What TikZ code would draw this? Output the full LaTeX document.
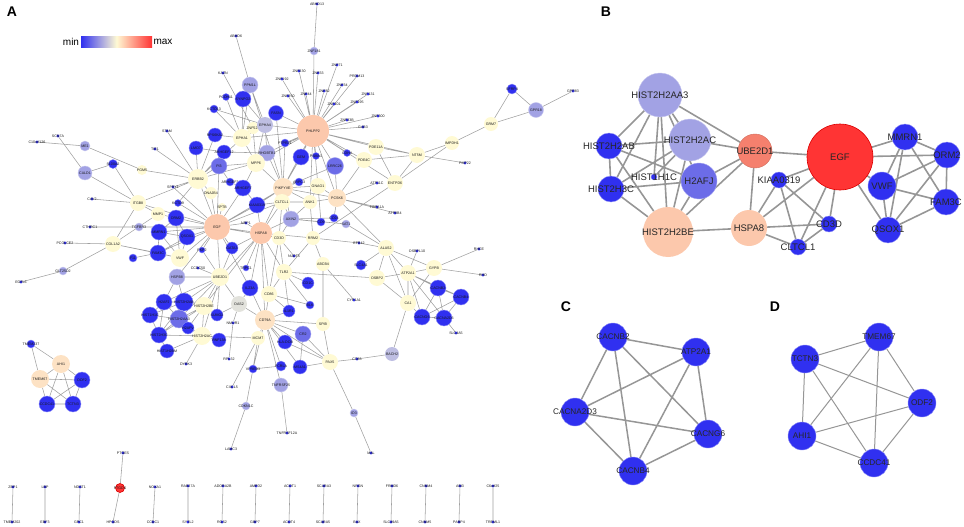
\documentclass[tikz,border=0pt]{standalone}
\usepackage{fontspec}
\setmainfont{Liberation Sans}
\usetikzlibrary{backgrounds}

\definecolor{nblue}{RGB}{48,48,240}
\definecolor{nmid}{RGB}{108,108,232}
\definecolor{nlav}{RGB}{162,162,228}
\definecolor{ngry}{RGB}{190,190,226}
\definecolor{ncre}{RGB}{255,250,212}
\definecolor{npch}{RGB}{252,200,172}
\definecolor{nlpc}{RGB}{253,226,196}
\definecolor{nsal}{RGB}{245,128,110}
\definecolor{nred}{RGB}{255,52,52}
\definecolor{nash}{RGB}{226,226,220}
\definecolor{edgeA}{RGB}{160,160,160}
\definecolor{edgeB}{RGB}{150,150,150}

\tikzset{
    gn/.style = {circle, inner sep = 0pt, minimum size = #1pt},
    gn/.default = 16,
    dt/.style = {circle, inner sep = 0pt, minimum size = 3.2pt, fill = nblue},
    labA/.style = {font = \fontsize{3.6}{4}\selectfont, inner sep = 0pt, text = black!90},
    labB/.style = {font = \fontsize{9.5}{11}\selectfont, inner sep = 0pt, text = black!85},
    labC/.style = {font = \fontsize{8.2}{10}\selectfont, inner sep = 0pt, text = black!85},
    lb/.style = {label = {[labA]center:#1}},
    lbB/.style = {label = {[labB]center:#1}},
    lbC/.style = {label = {[labC]center:#1}},
    bl/.style = {fill = nblue, draw = nblue!55!white, line width = 0.4pt},
    md/.style = {fill = nmid, draw = nmid!60!white, line width = 0.4pt},
    lv/.style = {fill = nlav, draw = nlav!60!white, line width = 0.4pt},
    gy/.style = {fill = ngry},
    cr/.style = {fill = ncre},
    pc/.style = {fill = npch},
    lp/.style = {fill = nlpc},
    sa/.style = {fill = nsal, draw = nsal!85!black, line width = 0.4pt},
    rd/.style = {fill = nred, draw = red!85!black, line width = 0.6pt},
    ash/.style = {fill = nash},
    edA/.style = {draw = edgeA, line width = 0.55pt},
    edB/.style = {draw = edgeB, line width = 1.6pt},
    edC/.style = {draw = edgeB, line width = 1.5pt},
    edD/.style = {draw = edgeB, line width = 1pt},
    panel/.style = {font = \fontsize{14}{16}\selectfont\bfseries},
}

\begin{document}
\begin{tikzpicture}[x = 1pt, y = -1pt]

    \useasboundingbox (0,0) rectangle (964,527);

    % ---------- panel A ----------
    \node[panel] (pA) at (12,12) {A};
    \shade[left color = nblue, right color = nred, middle color = ncre] (81,37) rectangle (152,48);
    \node[font = \fontsize{10}{12}\selectfont] (lmin) at (71,42) {min};
    \node[font = \fontsize{10}{12}\selectfont] (lmax) at (163,42) {max};

    % upper star
    \node[dt, lb=ABHD13] (abhd) at (317,4) {};
    \node[gn=8, lv, lb=ZNF181] (znf181) at (314,51) {};
    \node[dt, lb=ABHD6] (abhd6) at (236,36) {};
    \node[dt, lb=KAZN] (kazn) at (223,73) {};
    \node[gn=16, lv, lb=PPM1L] (ppm1l) at (250,85) {};
    \node[gn=7, bl, lb=PCDH11] (pcdh) at (226,97) {};
    \node[gn=16, bl, lb=SYNPO2] (synpo) at (243,99) {};
    \node[gn=8, bl, lb=KCTD13] (kctd13) at (214,109) {};
    \node[gn=15, bl, lb=FASN] (fasn) at (276,113) {};
    \node[gn=12, cr, lb=ZNF521] (znf521) at (253,128) {};
    \node[gn=16, gy, lb=EPHA4] (epha4) at (265,125) {};
    \node[gn=18, cr, lb=EPHA1] (epha1) at (242,138) {};
    \node[gn=16, lv, lb=RHOBTB1] (rhob) at (267,153) {};
    \node[gn=8, bl, lb=PTPRZ1] (ptprz) at (285,143) {};
    \node[gn=32, pc, lb=PHLPP2] (phlpp) at (313,131) {};
    \node[dt, lb=ZNF192] (z192) at (282,79) {};
    \node[dt, lb=ZNF230] (z230) at (299,71) {};
    \node[dt, lb=ZNF33] (z33) at (318,73) {};
    \node[dt, lb=ZNF71] (z71) at (337,65) {};
    \node[dt, lb=PRDM13] (prdm) at (357,76) {};
    \node[dt, lb=ZNF34] (z34) at (342,85) {};
    \node[dt, lb=ZNF82] (z82) at (324,91) {};
    \node[dt, lb=ZNF44] (z44) at (306,94) {};
    \node[dt, lb=ZNF250] (z250) at (288,96) {};
    \node[dt, lb=ZNF131] (z131) at (368,94) {};
    \node[dt, lb=ZNF195] (z195) at (357,102) {};
    \node[dt, lb=ZNF101] (z101) at (334,104) {};
    \node[dt, lb=ZNF33B] (z33b) at (347,120) {};
    \node[dt, lb=ZNF300] (z300) at (378,116) {};
    \node[dt, lb=GAB3] (gab3) at (363,127) {};
    \node[gn=16, cr, lb=PDE11A] (pde11a) at (376,147) {};
    \node[gn=16, cr, lb=NT5M] (nt5m) at (417,155) {};
    \node[gn=14, cr, lb=IMPDH1] (impdh) at (452,143) {};
    \node[gn=14, cr, lb=GRM7] (grm7) at (491,124) {};
    \node[gn=10, bl, lb=SFRP4] (sfrp) at (512,89) {};
    \node[gn=15, lv, lb=GPR18] (gpr18) at (536,110) {};
    \node[dt, lb=GPR83] (gpr83) at (573,91) {};
    \node[dt, lb=PMP22] (pmp22) at (465,163) {};
    \node[gn=16, cr, lb=ENTPD6] (entpd) at (395,183) {};
    \node[gn=16, cr, lb=PDE4C] (pde4c) at (364,160) {};
    \node[gn=17, md, lb=LRRC26] (lrrc) at (335,166) {};
    \node[gn=16, bl, lb=GEM] (gem) at (301,157) {};
    \node[gn=7, bl, lb=PSMA1] (psma) at (316,156) {};
    \node[gn=7, bl, lb=CDH4] (cdh4) at (347,153) {};
    \node[dt, lb=ATP11C] (atp11c) at (377,183) {};
    \node[gn=18, cr, lb=MPP6] (mpp6) at (256,163) {};
    \node[gn=20, lp, lb=PIKFYVE] (pikf) at (283,188) {};
    \node[gn=8, bl, lb=ARPC3] (arpc) at (299,182) {};
    \node[gn=16, cr, lb=GNAO1] (gnao) at (318,186) {};
    \node[gn=18, lp, lb=PCSK6] (pcsk) at (337,198) {};

    % left side
    \node[dt, lb=C10orf126] (c10) at (37,142) {};
    \node[dt, lb=SCN7A] (scn7a) at (58,136) {};
    \node[gn=10, lv, lb=ME1] (me1) at (85,146) {};
    \node[gn=14, lv, lb=CALD1] (cald) at (85,173) {};
    \node[gn=9, bl, lb=S100A2] (s100) at (113,164) {};
    \node[gn=10, cr, lb=PGM5] (pgm5) at (142,170) {};
    \node[gn=20, cr, lb=ERBB2] (erbb2) at (198,179) {};
    \node[dt, lb=STAM] (stam) at (167,131) {};
    \node[dt, lb=TIE1] (tie1) at (155,149) {};
    \node[dt, lb=SPRY1] (spry) at (173,187) {};
    \node[gn=14, bl, lb=RPS6KA2] (rps6) at (215,135) {};
    \node[gn=14, bl, lb=LMO7] (lmo7) at (196,148) {};
    \node[gn=14, bl, lb=ARHGEF12] (ahg12) at (224,152) {};
    \node[gn=16, md, lb=PI3] (pi3) at (219,166) {};
    \node[gn=8, bl, lb=ARHGEF3] (ahg3) at (230,182) {};
    \node[gn=16, bl, lb=ARHGEF7] (ahg7) at (243,188) {};
    \node[gn=12, cr, lb=DNAJB4] (dnaj) at (211,193) {};
    \node[dt, lb=CAV2] (cav2) at (92,199) {};
    \node[gn=16, cr, lb=ITGB8] (itgb8) at (138,203) {};
    \node[gn=7, bl, lb=KCTD9] (kctd9) at (178,203) {};
    \node[gn=8, cr, lb=SPTB] (sptb) at (222,207) {};
    \node[gn=16, bl, lb=KIAA0319] (kiaa) at (257,205) {};
    \node[gn=14, cr, lb=MMP1] (mmp1) at (158,214) {};
    \node[gn=16, bl, lb=ORM2] (orm2) at (176,218) {};
    \node[gn=16, bl, lb=MMRN1] (mmrn) at (159,232) {};
    \node[gn=16, bl, lb=QSOX1] (qsox) at (187,237) {};
    \node[gn=16, bl, lb=FAM3C] (fam3c) at (158,253) {};
    \node[gn=18, cr, lb=VWF] (vwf) at (180,258) {};
    \node[gn=26, pc, lb=EGF] (egf) at (217,227) {};
    \node[gn=8, lv, lb=TGFBR3] (tgfb) at (139,227) {};
    \node[dt, lb=CTHRC1] (cthrc) at (90,227) {};
    \node[gn=16, cr, lb=COL1A2] (col1a) at (113,244) {};
    \node[dt, lb=PCOLCE2] (pcol) at (65,243) {};
    \node[gn=8, bl, lb=F11] (f11) at (133,258) {};
    \node[gn=8, lv, lb=GLT25D2] (glt) at (63,271) {};
    \node[dt, lb=EGFL6] (egfl) at (21,282) {};

    % centre
    \node[gn=22, pc, lb=HSPA8] (hspa) at (261,233) {};
    \node[dt, lb=NRP1] (nrp1) at (246,223) {};
    \node[gn=12, bl, lb=GATA3] (gata3) at (232,248) {};
    \node[gn=6, bl, lb=PKP2] (pkp2) at (202,250) {};
    \node[dt, lb=CCDC50] (ccdc50) at (198,268) {};
    \node[gn=16, lv, lb=HSPB8] (hspb) at (177,277) {};
    \node[gn=18, cr, lb=UBE2D1] (ube) at (220,277) {};
    \node[gn=6, bl, lb=TRPC1] (trpc) at (246,268) {};
    \node[gn=16, bl, lb=IL23A] (il23) at (250,288) {};
    \node[gn=16, bl, lb=H2AFJ] (h2afj) at (164,302) {};
    \node[gn=18, bl, lb=HIST2H2AB] (h2ab) at (184,302) {};
    \node[gn=18, cr, lb=HIST2H2BE] (h2be) at (204,306) {};
    \node[gn=16, ash, lb=OAS2] (oas2) at (239,304) {};
    \node[gn=16, bl, lb=HIST1H1C] (h1c) at (150,315) {};
    \node[gn=18, md, lb=HIST2H2AA3] (aa3) at (179,319) {};
    \node[gn=12, bl, lb=SUMO2] (sumo) at (217,315) {};
    \node[gn=16, bl, lb=HIST2H3C] (h3c) at (159,335) {};
    \node[gn=12, bl, lb=H2AFV] (h2afv) at (188,328) {};
    \node[gn=18, cr, lb=HIST2H2AC] (h2ac) at (202,336) {};
    \node[dt, lb=NMUR1] (nmur) at (233,323) {};
    \node[gn=14, bl, lb=RNF138] (rnf) at (219,340) {};
    \node[gn=14, bl, lb=HIST1H2BM] (h2bm) at (167,351) {};
    \node[dt, lb=DYRK3] (dyrk) at (186,364) {};
    \node[dt, lb=RPL32] (rpl) at (229,359) {};
    \node[gn=20, lp, lb=CD79A] (cd79a) at (265,320) {};
    \node[gn=14, cr, lb=MCM7] (mcm7) at (258,338) {};
    \node[gn=14, bl, lb=HLA-DOB] (hla) at (285,342) {};
    \node[gn=8, bl, lb=VPREB3] (vpreb) at (253,369) {};
    \node[gn=10, bl, lb=FCRLA] (fcrla) at (281,366) {};
    \node[gn=14, bl, lb=MS4A1] (ms4a) at (300,367) {};
    \node[gn=16, cr, lb=PAX5] (pax5) at (330,362) {};
    \node[dt, lb=CD83] (cd83) at (357,359) {};
    \node[gn=14, gy, lb=BACH2] (bach2) at (392,354) {};
    \node[gn=14, lv, lb=TNFRSF25] (tnfr) at (281,385) {};
    \node[dt, lb=CXCL5] (cxcl5) at (232,387) {};
    \node[gn=8, lv, lb=CDKN1C] (cdkn) at (246,406) {};
    \node[gn=8, lv, lb=ID3] (id3) at (354,413) {};
    \node[dt, lb=TNFRSF12A] (tnfr12) at (287,433) {};
    \node[dt, lb=LAMC3] (lamc) at (231,449) {};
    \node[dt, lb=MAL] (mal) at (371,453) {};

    % centre right
    \node[gn=16, cr, lb=CLTCL1] (clt) at (282,202) {};
    \node[gn=14, cr, lb=ANK1] (ank1) at (310,202) {};
    \node[gn=16, lv, lb=AXIN2] (axin) at (291,219) {};
    \node[gn=8, bl, lb=CD9] (cd9) at (321,222) {};
    \node[gn=8, bl, lb=CD24] (cd24) at (334,218) {};
    \node[gn=8, lv, lb=SAT1] (sat1) at (346,224) {};
    \node[gn=14, cr, lb=CD3D] (cd3d) at (279,238) {};
    \node[gn=14, cr, lb=RRM2] (rrm2) at (313,238) {};
    \node[dt, lb=HSPA1A] (hspa1) at (377,207) {};
    \node[dt, lb=ATP8B4] (atp8b) at (395,213) {};
    \node[dt, lb=EPB42] (epb) at (359,243) {};
    \node[gn=16, cr, lb=ALAS2] (alas2) at (386,248) {};
    \node[dt, lb=OSBPL10] (osbpl) at (417,251) {};
    \node[dt, lb=NUDT5] (nudt) at (294,256) {};
    \node[gn=14, cr, lb=ABCB4] (abcb4) at (323,264) {};
    \node[gn=10, bl, lb=SLC4A1] (slc4a1) at (361,265) {};
    \node[dt, lb=RHCE] (rhce) at (479,249) {};
    \node[gn=16, cr, lb=GYPB] (gypb) at (434,268) {};
    \node[gn=16, cr, lb=ATP2A1] (atp2a) at (408,273) {};
    \node[gn=16, cr, lb=TLR2] (tlr2) at (284,272) {};
    \node[gn=16, cr, lb=OSBP2] (osbp2) at (377,278) {};
    \node[dt, lb=RHD] (rhd) at (483,275) {};
    \node[gn=12, bl, lb=CD1C] (cd1c) at (308,283) {};
    \node[gn=16, bl, lb=CACNB2] (cacnb2) at (438,288) {};
    \node[gn=16, bl, lb=CACNB4] (cacnb4) at (461,297) {};
    \node[gn=16, cr, lb=CD86] (cd86) at (269,294) {};
    \node[gn=8, bl, lb=BLK] (blk) at (310,305) {};
    \node[dt, lb=CYP1A1] (cyp) at (354,300) {};
    \node[gn=16, cr, lb=CA1] (ca1) at (408,303) {};
    \node[gn=16, bl, lb=CACNG6] (cacng) at (422,317) {};
    \node[gn=16, bl, lb=CACNA2D3] (cacna) at (444,318) {};
    \node[dt, lb=SLC4A5] (slc4a5) at (456,333) {};
    \node[gn=12, bl, lb=IL1R1] (il1r) at (289,311) {};
    \node[gn=14, cr, lb=SPIB] (spib) at (323,324) {};
    \node[gn=16, md, lb=CR2] (cr2) at (303,334) {};

    % AHI1 module
    \node[gn=8, bl, lb=TMEM237] (tmem237) at (31,344) {};
    \node[gn=18, lp, lb=AHI1] (ahi) at (61,364) {};
    \node[gn=18, lp, lb=TMEM67] (tmem67) at (40,379) {};
    \node[gn=16, bl, lb=ODF2] (odf2) at (82,380) {};
    \node[gn=16, bl, lb=CCDC41] (ccdc41) at (47,404) {};
    \node[gn=16, bl, lb=TCTN3] (tctn3) at (73,404) {};

    % pairs at the bottom
    \node[dt, lb=ZBP1] (zbp) at (13,487) {};
    \node[dt, lb=TMEM202] (tmem202) at (12,522) {};
    \node[dt, lb=LBP] (lbp) at (45,487) {};
    \node[dt, lb=EBF3] (ebf3) at (45,522) {};
    \node[dt, lb=NDST1] (ndst) at (80,487) {};
    \node[dt, lb=GPC1] (gpc1) at (79,522) {};
    \node[dt, lb=PTGES] (ptges) at (123,453) {};
    \node[gn=9, rd, lb=PTGDS] (ptgds) at (120,488) {};
    \node[dt, lb=HPGDS] (hpgds) at (113,522) {};
    \node[dt, lb=NOXA1] (noxa) at (155,487) {};
    \node[dt, lb=CCDC1] (ccdc1) at (153,522) {};
    \node[dt, lb=RAB27A] (rab27) at (188,486) {};
    \node[dt, lb=SYTL2] (sytl2) at (188,522) {};
    \node[dt, lb=ADORA2B] (adora) at (223,486) {};
    \node[dt, lb=RGS2] (rgs2) at (222,522) {};
    \node[dt, lb=AMPD2] (ampd2) at (256,486) {};
    \node[dt, lb=GBP7] (gbp7) at (255,522) {};
    \node[dt, lb=ACOT1] (acot1) at (290,486) {};
    \node[dt, lb=ACOT4] (acot4) at (289,522) {};
    \node[dt, lb=SCARA3] (scara3) at (324,486) {};
    \node[dt, lb=SCARA5] (scara5) at (323,522) {};
    \node[dt, lb=NRGN] (nrgn) at (358,486) {};
    \node[dt, lb=BAX] (bax) at (357,522) {};
    \node[dt, lb=FRMD6] (frmd6) at (392,486) {};
    \node[dt, lb=SLC39A5] (slc39) at (391,522) {};
    \node[dt, lb=CNNM4] (cnnm4) at (426,486) {};
    \node[dt, lb=CNNM5] (cnnm5) at (425,522) {};
    \node[dt, lb=ABI3] (abi3) at (460,486) {};
    \node[dt, lb=PARP4] (parp4) at (459,522) {};
    \node[dt, lb=C6orf25] (c6orf) at (493,486) {};
    \node[dt, lb=TREML1] (treml) at (493,522) {};

    \begin{pgfonlayer}{background}
        \draw[edA]
        % PHLPP2 hub
        (abhd) -- (znf181) (znf181) -- (phlpp)
        (phlpp) -- (z192) (phlpp) -- (z230) (phlpp) -- (z33) (phlpp) -- (z71)
        (phlpp) -- (prdm) (phlpp) -- (z34) (phlpp) -- (z82) (phlpp) -- (z44)
        (phlpp) -- (z250) (phlpp) -- (z131) (phlpp) -- (z195) (phlpp) -- (z101)
        (phlpp) -- (z33b) (phlpp) -- (z300) (phlpp) -- (gab3)
        (phlpp) -- (pde11a) (phlpp) -- (nt5m) (phlpp) -- (pde4c) (phlpp) -- (lrrc)
        (phlpp) -- (gem) (phlpp) -- (pikf) (phlpp) -- (gnao) (phlpp) -- (pcsk)
        (phlpp) -- (epha4) (phlpp) -- (fasn) (phlpp) -- (mpp6) (phlpp) -- (rhob)
        (phlpp) -- (ptprz) (phlpp) -- (epha1) (phlpp) -- (ank1) (phlpp) -- (psma)
        (phlpp) -- (cdh4) (phlpp) -- (entpd)
        % upper left
        (abhd6) -- (ppm1l) (kazn) -- (znf521) (ppm1l) -- (epha4) (ppm1l) -- (epha1)
        (ppm1l) -- (pikf) (pcdh) -- (epha1) (synpo) -- (epha1) (synpo) -- (epha4)
        (kctd13) -- (epha1) (kctd13) -- (epha4) (fasn) -- (epha4) (fasn) -- (pikf)
        (epha4) -- (epha1) (epha4) -- (rhob) (epha4) -- (mpp6) (znf521) -- (epha1)
        (znf521) -- (mpp6) (epha1) -- (erbb2) (epha1) -- (mpp6) (epha1) -- (rps6)
        (rhob) -- (mpp6) (rhob) -- (pikf) (rhob) -- (ahg12) (ptprz) -- (pikf)
        (gem) -- (pikf) (lrrc) -- (pcsk) (lrrc) -- (pikf) (pde4c) -- (pcsk)
        (pde4c) -- (nt5m) (pde11a) -- (nt5m) (pde11a) -- (entpd) (nt5m) -- (entpd)
        (nt5m) -- (impdh) (nt5m) -- (pmp22) (impdh) -- (entpd) (impdh) -- (grm7)
        (grm7) -- (sfrp) (grm7) -- (gpr18) (sfrp) -- (gpr18) (gpr18) -- (gpr83)
        (atp11c) -- (pcsk) (entpd) -- (rrm2) (pcsk) -- (hspa1) (pcsk) -- (atp8b)
        (pcsk) -- (alas2) (pcsk) -- (gnao) (pcsk) -- (ank1) (pcsk) -- (pikf)
        (pcsk) -- (cd24) (gnao) -- (pikf) (gnao) -- (ank1) (gnao) -- (cd9)
        (ank1) -- (pikf) (ank1) -- (clt) (ank1) -- (axin) (ank1) -- (rrm2)
        (arpc) -- (pikf) (pikf) -- (clt) (pikf) -- (egf) (pikf) -- (hspa)
        (pikf) -- (mpp6) (pikf) -- (axin) (pikf) -- (kiaa)
        % ERBB2 side
        (c10) -- (me1) (me1) -- (pgm5) (pgm5) -- (erbb2) (scn7a) -- (cald)
        (cald) -- (s100) (cald) -- (itgb8) (s100) -- (itgb8) (erbb2) -- (stam)
        (erbb2) -- (tie1) (erbb2) -- (spry) (erbb2) -- (lmo7) (erbb2) -- (rps6)
        (erbb2) -- (ahg12) (erbb2) -- (pi3) (erbb2) -- (egf) (erbb2) -- (itgb8)
        (erbb2) -- (dnaj) (erbb2) -- (mpp6) (erbb2) -- (kctd9)
        (itgb8) -- (col1a) (itgb8) -- (cav2) (itgb8) -- (mmp1) (itgb8) -- (egf)
        (cthrc) -- (tgfb) (tgfb) -- (egf) (pcol) -- (col1a) (col1a) -- (glt)
        (glt) -- (egfl) (col1a) -- (mmp1) (col1a) -- (fam3c) (f11) -- (fam3c)
        (col1a) -- (vwf) (lmo7) -- (ahg12) (ahg12) -- (pi3) (ahg3) -- (pi3)
        (pi3) -- (mpp6) (ahg7) -- (ahg3) (ahg7) -- (mpp6) (kiaa) -- (ahg7)
        % EGF hub
        (egf) -- (orm2) (egf) -- (mmrn) (egf) -- (qsox) (egf) -- (vwf)
        (egf) -- (fam3c) (egf) -- (kiaa) (egf) -- (hspa) (egf) -- (ube)
        (egf) -- (cd3d) (egf) -- (clt) (egf) -- (spry) (egf) -- (kctd9)
        (egf) -- (sptb) (egf) -- (dnaj) (egf) -- (gata3) (egf) -- (pkp2)
        (egf) -- (mmp1) (egf) -- (pi3) (egf) -- (ahg7) (egf) -- (nrp1)
        (egf) -- (hspb) (egf) -- (il23)
        (mmrn) -- (orm2) (mmrn) -- (qsox) (mmrn) -- (vwf) (mmrn) -- (fam3c)
        (orm2) -- (qsox) (orm2) -- (vwf) (qsox) -- (vwf) (qsox) -- (fam3c)
        (fam3c) -- (vwf)
        % UBE2D1, HSPA8 and the histones
        (ube) -- (hspa) (ube) -- (h2be) (ube) -- (h2ab) (ube) -- (h2afj)
        (ube) -- (aa3) (ube) -- (h2ac) (ube) -- (hspb) (ube) -- (pkp2)
        (ube) -- (ccdc50) (ube) -- (oas2) (ube) -- (sumo) (ube) -- (gata3)
        (hspa) -- (kiaa) (hspa) -- (clt) (hspa) -- (cd3d) (hspa) -- (tlr2)
        (hspa) -- (cd86) (hspa) -- (il23) (hspa) -- (h2be) (hspa) -- (trpc)
        (hspa) -- (gata3) (hspa) -- (nrp1) (hspa) -- (axin) (hspa) -- (cd79a)
        (hspa) -- (rrm2)
        (h2afj) -- (h2ab) (h2afj) -- (h1c) (h2afj) -- (aa3) (h2afj) -- (h3c)
        (h2ab) -- (h2be) (h2ab) -- (aa3) (h2ab) -- (h1c) (h2ab) -- (h3c)
        (h2be) -- (aa3) (h2be) -- (h2ac) (h2be) -- (sumo) (h2be) -- (h2afv)
        (h2be) -- (h3c) (h1c) -- (aa3) (h1c) -- (h3c) (aa3) -- (h3c)
        (aa3) -- (h2afv) (aa3) -- (h2ac) (h3c) -- (h2ac) (h3c) -- (h2bm)
        (h2bm) -- (h2ac) (h2afv) -- (h2ac) (h2ac) -- (rnf) (h2ac) -- (dyrk)
        (h2ac) -- (mcm7) (sumo) -- (oas2) (oas2) -- (nmur) (nmur) -- (rpl)
        (oas2) -- (cd79a) (oas2) -- (il23) (hspb) -- (h2afj) (hspb) -- (h2ab)
        % B cell part
        (mcm7) -- (cd79a) (mcm7) -- (vpreb) (mcm7) -- (cxcl5) (vpreb) -- (cdkn)
        (cdkn) -- (lamc) (vpreb) -- (cd79a) (vpreb) -- (fcrla) (cd79a) -- (fcrla)
        (cd79a) -- (ms4a) (cd79a) -- (hla) (cd79a) -- (cr2) (cd79a) -- (spib)
        (cd79a) -- (il1r) (cd79a) -- (cd86) (cd79a) -- (tnfr) (cd79a) -- (pax5)
        (cd79a) -- (il23) (tnfr) -- (tnfr12) (ms4a) -- (pax5) (hla) -- (pax5)
        (cr2) -- (pax5) (cr2) -- (ms4a) (spib) -- (pax5) (pax5) -- (cd83)
        (cd83) -- (bach2) (pax5) -- (id3) (id3) -- (mal) (bach2) -- (ca1)
        (spib) -- (abcb4)
        % TLR2 and CD86
        (tlr2) -- (cd86) (tlr2) -- (il1r) (tlr2) -- (cd1c) (tlr2) -- (blk)
        (tlr2) -- (cd3d) (tlr2) -- (rrm2) (tlr2) -- (osbp2) (cd86) -- (il1r)
        (cd86) -- (cd3d) (cd86) -- (blk) (cd3d) -- (clt) (cd3d) -- (axin)
        (cd3d) -- (nudt) (rrm2) -- (abcb4) (rrm2) -- (epb) (abcb4) -- (cyp)
        (axin) -- (cd9) (axin) -- (cd24) (axin) -- (sat1) (clt) -- (axin)
        (clt) -- (kiaa) (sat1) -- (alas2) (slc4a1) -- (alas2)
        % erythroid and calcium channel part
        (alas2) -- (epb) (alas2) -- (osbp2) (alas2) -- (atp2a) (alas2) -- (gypb)
        (alas2) -- (ca1) (osbp2) -- (atp2a) (osbp2) -- (ca1) (atp2a) -- (gypb)
        (atp2a) -- (osbpl) (atp2a) -- (ca1) (atp2a) -- (cacnb2) (atp2a) -- (cacnb4)
        (atp2a) -- (cacng) (atp2a) -- (cacna) (gypb) -- (rhce) (gypb) -- (rhd)
        (gypb) -- (ca1) (cacnb2) -- (cacnb4) (cacnb2) -- (cacng) (cacnb2) -- (cacna)
        (cacnb4) -- (cacng) (cacnb4) -- (cacna) (cacng) -- (cacna) (ca1) -- (cacng)
        (cacna) -- (slc4a5)
        % AHI1 module
        (tmem237) -- (ahi) (tmem237) -- (tmem67) (ahi) -- (tmem67) (ahi) -- (odf2)
        (ahi) -- (ccdc41) (ahi) -- (tctn3) (tmem67) -- (odf2) (tmem67) -- (ccdc41)
        (tmem67) -- (tctn3) (odf2) -- (ccdc41) (odf2) -- (tctn3) (ccdc41) -- (tctn3)
        % pairs
        (zbp) -- (tmem202) (lbp) -- (ebf3) (ndst) -- (gpc1) (ptges) -- (ptgds)
        (ptgds) -- (hpgds) (noxa) -- (ccdc1) (rab27) -- (sytl2) (adora) -- (rgs2)
        (ampd2) -- (gbp7) (acot1) -- (acot4) (scara3) -- (scara5) (nrgn) -- (bax)
        (frmd6) -- (slc39) (cnnm4) -- (cnnm5) (abi3) -- (parp4) (c6orf) -- (treml)
        ;
    \end{pgfonlayer}

    % ---------- panel B ----------
    \node[panel] (pB) at (606,12) {B};
    \node[gn=44, lv, lbB=HIST2H2AA3] (bh2aa3) at (660,95) {};
    \node[gn=42, lv, lbB=HIST2H2AC] (bh2ac) at (690,140) {};
    \node[gn=26, bl, lbB=HIST2H2AB] (bh2ab) at (609,146) {};
    \node[gn=26, bl, lbB=HIST2H3C] (bh3c) at (611,189) {};
    \node[gn=36, md, lbB=H2AFJ] (bh2afj) at (699,181) {};
    \node[gn=6, bl, lbB=HIST1H1C] (bh1c) at (654,177) {};
    \node[gn=34, sa, lbB=UBE2D1] (bube) at (755,151) {};
    \node[gn=66, rd, lbB=EGF] (begf) at (840,157) {};
    \node[gn=26, bl, lbB=MMRN1] (bmmrn) at (905,137) {};
    \node[gn=26, bl, lbB=ORM2] (borm) at (947,155) {};
    \node[gn=28, bl, lbB=VWF] (bvwf) at (882,186) {};
    \node[gn=26, bl, lbB=FAM3C] (bfam) at (946,202) {};
    \node[gn=26, bl, lbB=QSOX1] (bqsox) at (888,230) {};
    \node[gn=16, bl, lbB=KIAA0319] (bkiaa) at (779,180) {};
    \node[gn=50, pc, lbB=HIST2H2BE] (bh2be) at (668,232) {};
    \node[gn=36, pc, lbB=HSPA8] (bhspa) at (749,228) {};
    \node[gn=16, bl, lbB=CD3D] (bcd3d) at (829,224) {};
    \node[gn=16, bl, lbB=CLTCL1] (bclt) at (798,247) {};

    \begin{pgfonlayer}{background}
        \draw[edB]
        (bh2aa3) -- (bh2ab) (bh2aa3) -- (bh3c) (bh2aa3) -- (bh1c) (bh2aa3) -- (bh2be)
        (bh2aa3) -- (bube) (bh2aa3) -- (bh2afj) (bh2aa3) -- (bh2ac)
        (bh2ab) -- (bh2ac) (bh2ab) -- (bh3c) (bh2ab) -- (bh2afj) (bh2ab) -- (bh2be)
        (bh2ac) -- (bube) (bh2ac) -- (bh3c) (bh2ac) -- (bh2be) (bh2ac) -- (bh1c)
        (bh3c) -- (bh2afj) (bh3c) -- (bh2be) (bh2afj) -- (bube) (bh2afj) -- (bh2be)
        (bube) -- (bh2be) (bube) -- (bhspa) (bube) -- (begf) (bh2be) -- (bhspa)
        (bhspa) -- (bkiaa) (bhspa) -- (begf) (bhspa) -- (bcd3d) (bhspa) -- (bclt)
        (bkiaa) -- (begf) (bkiaa) -- (bcd3d) (bkiaa) -- (bclt)
        (begf) -- (bcd3d) (begf) -- (bclt) (begf) -- (bmmrn) (begf) -- (borm)
        (begf) -- (bvwf) (begf) -- (bqsox) (bcd3d) -- (bclt)
        (bmmrn) -- (borm) (bmmrn) -- (bvwf) (bmmrn) -- (bqsox) (bmmrn) -- (bfam)
        (borm) -- (bvwf) (borm) -- (bfam) (borm) -- (bqsox)
        (bvwf) -- (bfam) (bvwf) -- (bqsox) (bfam) -- (bqsox)
        ;
    \end{pgfonlayer}

    % ---------- panel C ----------
    \node[panel] (pC) at (566,307) {C};
    \node[gn=28, bl, lbC=CACNB2] (ccnb2) at (613,337) {};
    \node[gn=28, bl, lbC=ATP2A1] (catp) at (696,352) {};
    \node[gn=28, bl, lbC=CACNA2D3] (ccna) at (575,412) {};
    \node[gn=28, bl, lbC=CACNG6] (ccng) at (708,434) {};
    \node[gn=28, bl, lbC=CACNB4] (ccnb4) at (633,471) {};

    \begin{pgfonlayer}{background}
        \draw[edC]
        (ccnb2) -- (catp) (ccnb2) -- (ccna) (ccnb2) -- (ccnb4) (ccnb2) -- (ccng)
        (catp) -- (ccna) (catp) -- (ccnb4) (catp) -- (ccng)
        (ccna) -- (ccng) (ccna) -- (ccnb4) (ccng) -- (ccnb4)
        ;
    \end{pgfonlayer}

    % ---------- panel D ----------
    \node[panel] (pD) at (775,307) {D};
    \node[gn=28, bl, lbC=TMEM67] (dtmem) at (879,337) {};
    \node[gn=28, bl, lbC=TCTN3] (dtctn) at (805,359) {};
    \node[gn=28, bl, lbC=ODF2] (dodf) at (922,403) {};
    \node[gn=28, bl, lbC=AHI1] (dahi) at (802,436) {};
    \node[gn=28, bl, lbC=CCDC41] (dccdc) at (874,463) {};

    \begin{pgfonlayer}{background}
        \draw[edD]
        (dtctn) -- (dtmem) (dtctn) -- (dahi) (dtctn) -- (dodf) (dtctn) -- (dccdc)
        (dtmem) -- (dahi) (dtmem) -- (dodf) (dtmem) -- (dccdc)
        (dodf) -- (dahi) (dodf) -- (dccdc) (dahi) -- (dccdc)
        ;
    \end{pgfonlayer}

\end{tikzpicture}
\end{document}
